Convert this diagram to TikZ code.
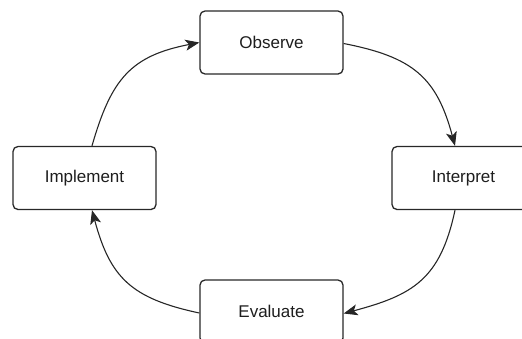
\documentclass[tikz,border=0pt]{standalone}
\usepackage{fontspec}
\setmainfont{Liberation Sans}
\usepackage{tikz}
\usetikzlibrary{arrows.meta, positioning}
\definecolor{edgegray}{RGB}{40, 40, 40}
\definecolor{textgray}{RGB}{30, 30, 30}

\begin{document}
\begin{tikzpicture}[x=1pt, y=-1pt,
    stage/.style={draw=edgegray, line width=1.3pt, rounded corners=5pt, fill=white, text=textgray,
        minimum width=143pt, minimum height=63pt, font=\fontsize{17}{20}\selectfont},
    flow/.style={draw=black!85, line width=1.1pt, -{Stealth[length=14pt, width=11pt, inset=3.5pt]}}]
                \clip (0,0) rectangle (522,338);
                \node[stage] (obs) at (271.5,42.5) {Observe};
                \node[stage] (imp) at (84.5,178) {Implement};
                \node[stage] (intp) at (463.5,178) {Interpret};
                \node[stage] (eval) at (271.5,311.5) {Evaluate};
                
                \draw[flow] ([xshift=7.5pt]imp.north) to[out=74, in=191, looseness=1.2] (obs.west);
                \draw[flow] ([yshift=-1pt]obs.east) to[out=-11, in=105, looseness=1.2] ([xshift=-8.5pt]intp.north);
                \draw[flow] ([xshift=-8.5pt]intp.south) to[out=-102, in=15, looseness=1.2] ([yshift=-2pt]eval.east);
                \draw[flow] ([yshift=-1.5pt]eval.west) to[out=168, in=-75, looseness=1.2] ([xshift=7.5pt]imp.south);
            \end{tikzpicture}
\end{document}
